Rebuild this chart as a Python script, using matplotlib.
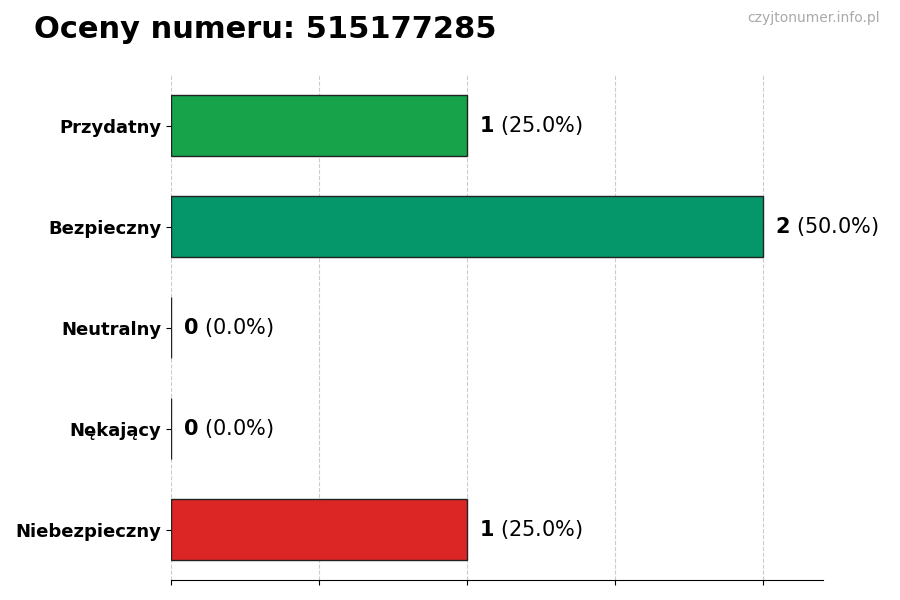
import matplotlib
matplotlib.use("Agg")
import matplotlib.pyplot as plt

categories = ["Przydatny", "Bezpieczny", "Neutralny", "Nękający", "Niebezpieczny"]
counts = [1, 2, 0, 0, 1]
percents = [25.0, 50.0, 0.0, 0.0, 25.0]
colors = ["#16a34a", "#059669", "#9ca3af", "#ea580c", "#dc2626"]

fig = plt.figure(figsize=(9, 6), dpi=100)
ax = fig.add_axes([0.19, 0.033, 0.724, 0.842])
y = list(range(len(categories)))[::-1]
ax.barh(y, counts, height=0.6, color=colors, edgecolor="#222222", linewidth=1)
for yi, c, p in zip(y, counts, percents):
    ax.text(c + 0.04, yi, f"$\\bf{{{c}}}$ ({p:.1f}%)", va="center", ha="left", fontsize=15)
ax.set_yticks(y)
ax.set_yticklabels(categories, fontsize=13, fontweight="bold")
ax.set_xlim(0, 2.2)
ax.set_ylim(-0.5, 4.5)
ax.set_xticks([0, 0.5, 1, 1.5, 2])
ax.set_xticklabels([])
ax.grid(axis="x", linestyle="--", color="#cccccc", linewidth=0.8)
ax.set_axisbelow(True)
for s in ["top", "right", "left"]:
    ax.spines[s].set_visible(False)
fig.text(0.038, 0.95, "Oceny numeru: 515177285", fontsize=22, fontweight="bold", va="center")
fig.text(0.978, 0.97, "czyjtonumer.info.pl", fontsize=10, color="#aaaaaa", ha="right", va="center")
fig.savefig("out.png", dpi=100)
